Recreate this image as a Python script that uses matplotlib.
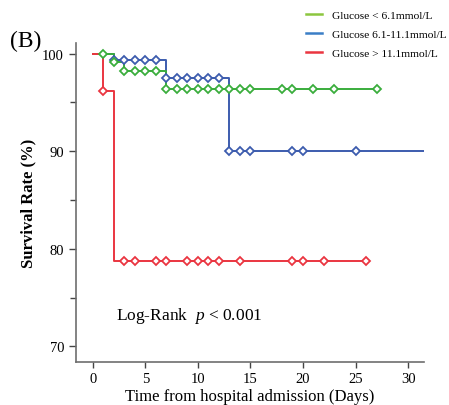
import matplotlib.pyplot as plt
from matplotlib.lines import Line2D
import numpy as np

plt.rcParams['font.family'] = ['Liberation Serif', 'DejaVu Serif']
plt.rcParams['mathtext.fontset'] = 'custom'
plt.rcParams['mathtext.it'] = 'Liberation Serif:italic'

labels = ["Glucose < 6.1mmol/L", "Glucose 6.1-11.1mmol/L", "Glucose > 11.1mmol/L"]

# step function: change times and survival (%) after each change
low_times = [0, 2, 3, 7]
low_surv = [100, 99.1, 98.2, 96.4]
low_censor = [1, 2, 3, 4, 5, 6, 7, 8, 9, 10, 11, 12, 13, 14, 15, 18, 19, 21, 23, 27]
low_end = 27

mid_times = [0, 2, 7, 13]
mid_surv = [100, 99.3, 97.5, 90.0]
mid_censor = [2, 3, 4, 5, 6, 7, 8, 9, 10, 11, 12, 13, 14, 15, 19, 20, 25]
mid_end = 31.5

high_times = [0, 1, 2]
high_surv = [100, 96.2, 78.7]
high_censor = [1, 3, 4, 6, 7, 9, 10, 11, 12, 14, 19, 20, 22, 26]
high_end = 26

line_colors = ['#3aad3c', '#3c5cae', '#ea3540']
legend_colors = ['#8cc63f', '#3b7ec6', '#ea3540']


def km_draw(ax, times, surv, censor, end, color, z):
    t = list(times) + [end]
    s = list(surv) + [surv[-1]]
    ax.step(t, s, where='post', color=color, lw=1.4, zorder=z)
    idx = np.searchsorted(times, censor, side='right') - 1
    cy = np.array(surv)[idx]
    ax.plot(censor, cy, ls='none', marker='D', ms=4.0, mfc='white',
            mec=color, mew=1.3, zorder=z + 3)


fig = plt.figure(figsize=(4.49, 4.06), dpi=100)
ax = fig.add_axes([0.169, 0.106, 0.775, 0.786])

km_draw(ax, mid_times, mid_surv, mid_censor, mid_end, line_colors[1], 2)
km_draw(ax, low_times, low_surv, low_censor, low_end, line_colors[0], 2)
km_draw(ax, high_times, high_surv, high_censor, high_end, line_colors[2], 3)

ax.set_xlim(-1.6, 31.5)
ax.set_ylim(68.4, 101.1)
ax.set_xticks([0, 5, 10, 15, 20, 25, 30])
ax.set_yticks([70, 80, 90, 100])
ax.set_yticks([75, 85, 95], minor=True)
ax.spines['top'].set_visible(False)
ax.spines['right'].set_visible(False)
for sp in ['left', 'bottom']:
    ax.spines[sp].set_color('#6e6e6e')
    ax.spines[sp].set_linewidth(1.2)
ax.tick_params(axis='both', which='both', direction='out', color='#444444',
               labelsize=10.5, width=1)
ax.tick_params(axis='y', which='major', length=5)
ax.tick_params(axis='y', which='minor', length=4)
ax.tick_params(axis='x', length=4)

ax.set_xlabel("Time from hospital admission (Days)", fontsize=12, labelpad=2)
ax.set_ylabel("Survival Rate (%)", fontsize=12, fontweight='bold', labelpad=4)

ax.text(2.2, 72.8, r"Log-Rank  $p$ < 0.001", fontsize=12.5)
fig.text(0.022, 0.885, "(B)", fontsize=17)

handles = [Line2D([0], [0], color=c, lw=1.8) for c in legend_colors]
fig.legend(handles, labels, loc='upper left', bbox_to_anchor=(0.665, 0.99),
           frameon=False, fontsize=8.2, handlelength=1.4, handletextpad=0.85,
           labelspacing=0.78, borderaxespad=0.25)

fig.savefig("out.png", dpi=100)
